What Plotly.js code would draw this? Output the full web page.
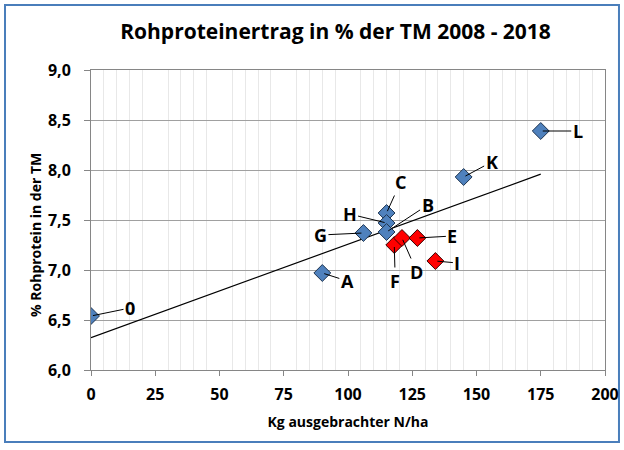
<!DOCTYPE html>
<html>
<head>
<meta charset="utf-8">
<script src="https://cdn.plot.ly/plotly-3.0.1.min.js"></script>
<style>
html,body{margin:0;padding:0;background:#fff;}
#chart{width:624px;height:450px;}
</style>
</head>
<body>
<div id="chart"></div>
<script>
// Blue points
const blueLabels = ['0', 'A', 'G', 'C', 'H', 'B', 'K', 'L'];
const blueX = [0, 90, 106, 115, 115, 115, 145, 175];
const blueY = [6.54, 6.97, 7.37, 7.57, 7.47, 7.38, 7.93, 8.39];
// Red points
const redLabels = ['F', 'D', 'E', 'I'];
const redX = [118, 121, 127, 134];
const redY = [7.25, 7.32, 7.32, 7.09];
// Label offsets (text position relative to point, px)
const labelOffsets = {
  '0': [39, -8], 'A': [25, 8], 'G': [-43, 2], 'C': [14, -31], 'H': [-37, -9],
  'B': [41, -27], 'K': [28, -15], 'L': [37, 0],
  'F': [1, 36], 'D': [15, 34], 'E': [35, -2], 'I': [22, 2]
};

// Linear trend over all points
const allX = blueX.concat(redX), allY = blueY.concat(redY);
const n = allX.length;
const mx = allX.reduce((a, b) => a + b, 0) / n;
const my = allY.reduce((a, b) => a + b, 0) / n;
let sxy = 0, sxx = 0;
for (let i = 0; i < n; i++) { sxy += (allX[i] - mx) * (allY[i] - my); sxx += (allX[i] - mx) ** 2; }
const slope = sxy / sxx, icpt = my - slope * mx;
const trendX = [Math.min(...allX), Math.max(...allX)];
const trendY = trendX.map(x => icpt + slope * x);

const FONT = 'Open Sans, sans-serif';

const traces = [
  {x: trendX, y: trendY, mode: 'lines', line: {color: '#000', width: 1.2}, hoverinfo: 'skip', showlegend: false},
  {x: blueX, y: blueY, mode: 'markers', marker: {symbol: 'diamond', size: 13, color: '#4f81bd', line: {color: '#1f3550', width: 1}}, showlegend: false},
  {x: redX, y: redY, mode: 'markers', marker: {symbol: 'diamond', size: 13, color: '#ff0000', line: {color: '#3a0000', width: 1}}, showlegend: false}
];

const annotations = [];
function addLabels(labels, xs, ys) {
  labels.forEach((lab, i) => {
    const o = labelOffsets[lab];
    annotations.push({x: xs[i], y: ys[i], xref: 'x', yref: 'y', text: lab, showarrow: true,
      arrowhead: 0, arrowwidth: 1, arrowcolor: '#000', ax: o[0], ay: o[1], standoff: 2,
      font: {family: FONT, size: 18, color: '#000', weight: 'bold'}});
  });
}
addLabels(blueLabels, blueX, blueY);
addLabels(redLabels, redX, redY);

// Y axis title as a rotated annotation (placed slightly below centre as in the original)
annotations.push({xref: 'paper', yref: 'paper', x: -0.109, y: 0.45, xanchor: 'center', yanchor: 'middle',
  textangle: -90, showarrow: false, text: '<b>% Rohprotein in der TM</b>',
  font: {family: FONT, size: 14, color: '#000'}});

const layout = {
  width: 624, height: 450,
  margin: {l: 91, r: 19, t: 70, b: 80},
  paper_bgcolor: '#fff', plot_bgcolor: '#fff',
  separators: ',.',
  font: {family: FONT, color: '#000'},
  title: {text: '<b>Rohproteinertrag in % der TM 2008 - 2018</b>', x: 0.5377, xanchor: 'center', y: 0.929, yanchor: 'middle',
    font: {family: FONT, size: 21, color: '#000'}},
  xaxis: {range: [0, 200], dtick: 25, tick0: 0, showgrid: false, zeroline: false,
    ticks: 'outside', ticklen: 5, tickcolor: '#868686', showline: true, linecolor: '#868686', linewidth: 1, mirror: true,
    ticklabelstandoff: 5,
    tickfont: {family: FONT, size: 16, color: '#000', weight: 'bold'},
    minor: {dtick: 5, showgrid: true, gridcolor: '#e8e8e8', gridwidth: 1},
    title: {text: '<b>Kg ausgebrachter N/ha</b>', font: {family: FONT, size: 14, color: '#000'}, standoff: 12}},
  yaxis: {range: [6, 9], dtick: 0.5, tick0: 6, tickformat: '.1f', showgrid: true, gridcolor: '#a0a0a0', gridwidth: 1, zeroline: false,
    ticks: 'outside', ticklen: 6, tickcolor: '#868686', showline: true, linecolor: '#868686', linewidth: 1, mirror: true,
    ticklabelstandoff: 10,
    tickfont: {family: FONT, size: 16, color: '#000', weight: 'bold'}},
  annotations: annotations,
  shapes: [{type: 'rect', xref: 'paper', yref: 'paper', x0: -0.1673, x1: 1.0272, y0: -0.24, y1: 1.2167,
    line: {color: '#4a7ebb', width: 2}, layer: 'below'}],
  hovermode: false
};

Plotly.newPlot('chart', traces, layout, {displayModeBar: false, staticPlot: true});
</script>
</body>
</html>
